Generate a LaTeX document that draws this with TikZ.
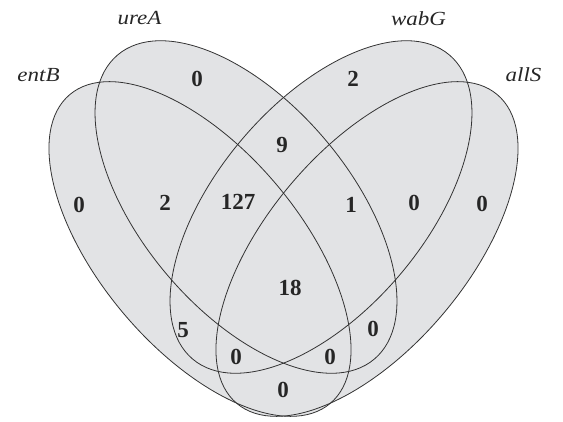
\documentclass[tikz,border=0pt]{standalone}
\usepackage{fontspec}
\setmainfont{Liberation Serif}
\definecolor{vfill}{HTML}{E2E3E5}
\definecolor{vline}{HTML}{333333}
\begin{document}
\begin{tikzpicture}[x=1pt,y=1pt,
  setfill/.style={fill=vfill},
  setline/.style={draw=vline, line width=0.8pt},
  setlabel/.style={font=\fontsize{20}{20}\selectfont\itshape, anchor=base, inner sep=0pt, text=black!85},
  count/.style={font=\fontsize{23}{23}\selectfont\bfseries, inner sep=0pt, text=black!85}]
\useasboundingbox (0,0) rectangle (563,421);
% fills
\fill[setfill, rotate around={-49.85:(200,172)}] (200,172) ellipse [x radius=202, y radius=100];
\fill[setfill, rotate around={49.85:(367,172)}] (367,172) ellipse [x radius=202, y radius=100];
\fill[setfill, rotate around={-49.85:(246,214)}] (246,214) ellipse [x radius=199, y radius=104];
\fill[setfill, rotate around={49.85:(321,214)}] (321,214) ellipse [x radius=199, y radius=104];
% outlines
\draw[setline, rotate around={-49.85:(200,172)}] (200,172) ellipse [x radius=202, y radius=100];
\draw[setline, rotate around={49.85:(367,172)}] (367,172) ellipse [x radius=202, y radius=100];
\draw[setline, rotate around={-49.85:(246,214)}] (246,214) ellipse [x radius=199, y radius=104];
\draw[setline, rotate around={49.85:(321,214)}] (321,214) ellipse [x radius=199, y radius=104];
% set labels
\node[setlabel] (lureA) at (139.5,396) {\scalebox{1.15}[1]{ureA}};
\node[setlabel] (lentB) at (38.5,339) {\scalebox{1.15}[1]{entB}};
\node[setlabel] (lwabG) at (418.5,395) {\scalebox{1.15}[1]{wabG}};
\node[setlabel] (lallS) at (523.5,339) {\scalebox{1.15}[1]{allS}};
% counts (image y -> 421 - y)
\node[count] (n1) at (197,342) {0};
\node[count] (n2) at (353,342) {2};
\node[count] (n3) at (282,276) {9};
\node[count] (n4) at (79,216) {0};
\node[count] (n5) at (165,218) {2};
\node[count] (n6) at (238,219) {127};
\node[count] (n7) at (351,216) {1};
\node[count] (n8) at (414,218) {0};
\node[count] (n9) at (482,217) {0};
\node[count] (n10) at (290,133) {18};
\node[count] (n11) at (183,91) {5};
\node[count] (n12) at (373,92) {0};
\node[count] (n13) at (236,64) {0};
\node[count] (n14) at (330,64) {0};
\node[count] (n15) at (283,31) {0};
\end{tikzpicture}
\end{document}
